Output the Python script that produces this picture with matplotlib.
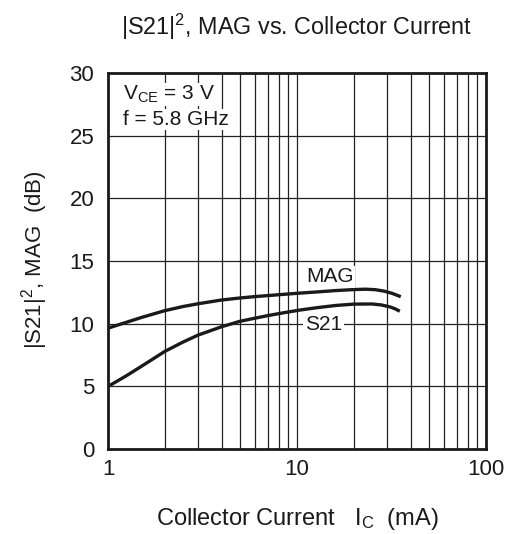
import numpy as np
import matplotlib
matplotlib.use("Agg")
import matplotlib.pyplot as plt

plt.rcParams['font.family'] = ['Liberation Sans', 'DejaVu Sans']
plt.rcParams['mathtext.fontset'] = 'custom'
plt.rcParams['mathtext.rm'] = 'Liberation Sans'
plt.rcParams['mathtext.it'] = 'Liberation Sans'
plt.rcParams['mathtext.bf'] = 'Liberation Sans:bold'

# Data
ic_mag = [1, 1.5, 2, 2.5, 3, 4, 5, 6, 7, 8.5, 10.4, 13, 16, 20, 23, 26, 29, 32, 35.4]
mag_db = [9.65, 10.5, 11.05, 11.38, 11.6, 11.9, 12.06, 12.17, 12.25, 12.35, 12.45, 12.55,
          12.65, 12.73, 12.76, 12.72, 12.6, 12.42, 12.16]
ic_s21 = [1, 1.25, 1.5, 2, 2.5, 3, 4, 5, 6, 7, 8.5, 10.4, 13, 16, 20, 25, 28, 31, 33, 35]
s21_db = [5.0, 5.85, 6.6, 7.8, 8.55, 9.1, 9.77, 10.2, 10.45, 10.65, 10.88, 11.1, 11.3,
          11.46, 11.57, 11.58, 11.5, 11.35, 11.2, 11.0]

x_ticks = [1, 10, 100]
y_ticks = [0, 5, 10, 15, 20, 25, 30]

fig = plt.figure(figsize=(5.11, 5.34), dpi=100)
ax = fig.add_axes([0.2114, 0.159, 0.7396, 0.704])
ax.set_xscale('log')
ax.set_xlim(1, 100)
ax.set_ylim(0, 30)

# grid
minor = [m * d for d in (1, 10) for m in range(2, 10)]
for xv in minor + [10]:
    ax.axvline(xv, color='#222222', lw=0.9, zorder=1)
for yv in y_ticks[1:-1]:
    ax.axhline(yv, color='#222222', lw=0.9, zorder=1)

ax.plot(ic_mag, mag_db, color='#1a1a1a', lw=2.4, zorder=3, solid_capstyle='butt')
ax.plot(ic_s21, s21_db, color='#1a1a1a', lw=2.4, zorder=3, solid_capstyle='butt')

ax.text(15, 13.75, 'MAG', fontsize=15, ha='center', va='center', color='#1a1a1a', zorder=4,
        bbox=dict(facecolor='white', edgecolor='none', pad=1))
ax.text(13.8, 9.95, 'S21', fontsize=15, ha='center', va='center', color='#1a1a1a', zorder=4,
        bbox=dict(facecolor='white', edgecolor='none', pad=1.5))

ax.text(1.2, 28.3, r'V$_{\mathregular{CE}}$ = 3 V', fontsize=15, ha='left', va='center',
        color='#1a1a1a', zorder=4, bbox=dict(facecolor='white', edgecolor='none', pad=0.5))
ax.text(1.2, 26.3, 'f = 5.8 GHz', fontsize=15, ha='left', va='center',
        color='#1a1a1a', zorder=4, bbox=dict(facecolor='white', edgecolor='none', pad=0.5))

ax.set_xticks(x_ticks)
ax.set_xticklabels([str(v) for v in x_ticks])
ax.set_yticks(y_ticks)
ax.set_yticklabels([str(v) for v in y_ticks])
ax.xaxis.set_minor_locator(matplotlib.ticker.NullLocator())
ax.tick_params(axis='both', length=0, labelsize=16, colors='#1a1a1a', pad=7)
ax.tick_params(axis='y', pad=10)

for s in ax.spines.values():
    s.set_linewidth(2.0)
    s.set_color('#1a1a1a')
    s.set_zorder(5)

fig.text(0.581, 0.949, r'|S21|$^{\mathregular{2}}$, MAG vs. Collector Current', fontsize=16.8,
         ha='center', va='center', color='#1a1a1a')
fig.text(0.581, 0.028, r'Collector Current   I$_{\mathregular{C}}$  (mA)', fontsize=17,
         ha='center', va='center', color='#1a1a1a')
fig.text(0.068, 0.513, r'|S21|$^{\mathregular{2}}$, MAG  (dB)', fontsize=16, rotation=90,
         ha='center', va='center', color='#1a1a1a')

fig.savefig('out.png', dpi=100)
